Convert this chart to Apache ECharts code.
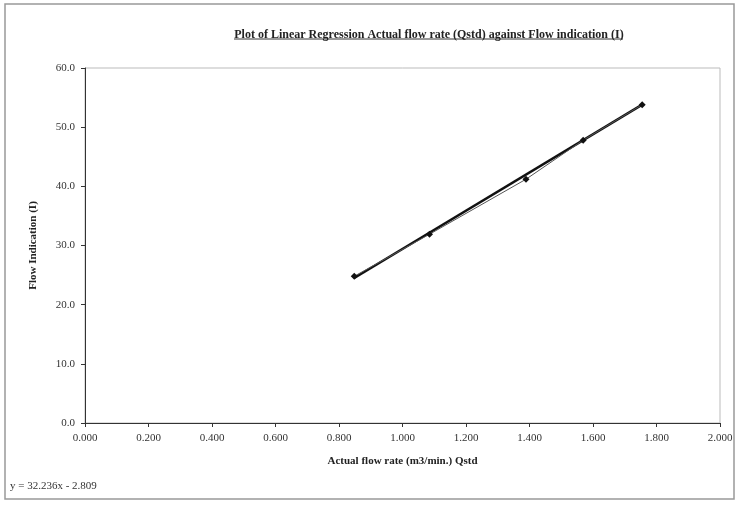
<!DOCTYPE html>
<html>
<head>
<meta charset="utf-8">
<script src="https://cdn.jsdelivr.net/npm/echarts@6/dist/echarts.min.js"></script>
<style>html,body{margin:0;padding:0;background:#fff}#c{width:737px;height:505px}</style>
</head>
<body>
<div id="c"></div>
<script>
// Data
var flowRate = [0.848, 1.085, 1.389, 1.569, 1.755];      // Actual flow rate (m3/min.) Qstd
var flowIndication = [24.8, 31.9, 41.2, 47.8, 53.8];     // Flow Indication (I)
var trendX = [0.848, 1.755];
var trendY = [24.5, 53.8];
var xTicks = ['0.000','0.200','0.400','0.600','0.800','1.000','1.200','1.400','1.600','1.800','2.000'];
var yTicks = ['0.0','10.0','20.0','30.0','40.0','50.0','60.0'];
var titleText = 'Plot of Linear Regression Actual flow rate (Qstd) against Flow indication (I)';
var equationText = 'y = 32.236x - 2.809';

var serif = '"Liberation Serif", "DejaVu Serif", serif';
var chart = echarts.init(document.getElementById('c'));
var pts = flowRate.map(function (x, i) { return [x, flowIndication[i]]; });
var trend = trendX.map(function (x, i) { return [x, trendY[i]]; });

chart.setOption({
  backgroundColor: '#fff',
  animation: false,
  title: {
    text: titleText,
    left: 424, top: 24, textAlign: 'center',
    textStyle: { fontFamily: serif, fontSize: 12, fontWeight: 'bold', color: '#222' }
  },
  grid: { left: 85, right: 17, top: 68, bottom: 82, show: true, borderColor: '#bbb', borderWidth: 1 },
  xAxis: {
    type: 'value', min: 0, max: 2, interval: 0.2,
    name: 'Actual flow rate (m3/min.) Qstd', nameLocation: 'middle', nameGap: 33,
    nameTextStyle: { fontFamily: serif, fontSize: 11, fontWeight: 'bold', color: '#222' },
    axisLine: { show: true, lineStyle: { color: '#333', width: 1 } },
    axisTick: { show: true, length: 4, lineStyle: { color: '#333' } },
    splitLine: { show: false },
    axisLabel: { fontFamily: serif, fontSize: 11, color: '#333', margin: 10,
      formatter: function (v) { return xTicks[Math.round(v / 0.2)]; } }
  },
  yAxis: {
    type: 'value', min: 0, max: 60, interval: 10,
    name: 'Flow Indication (I)', nameLocation: 'middle', nameGap: 46, nameRotate: 90,
    nameTextStyle: { fontFamily: serif, fontSize: 11, fontWeight: 'bold', color: '#222' },
    axisLine: { show: true, lineStyle: { color: '#333', width: 1 } },
    axisTick: { show: true, length: 4, lineStyle: { color: '#333' } },
    splitLine: { show: false },
    axisLabel: { fontFamily: serif, fontSize: 11, color: '#333', margin: 10,
      formatter: function (v) { return yTicks[Math.round(v / 10)]; } }
  },
  series: [
    {
      type: 'line', data: trend, symbol: 'none',
      lineStyle: { color: '#111', width: 2.5 }, z: 2
    },
    {
      type: 'line', data: pts, symbol: 'diamond', symbolSize: 7,
      itemStyle: { color: '#111' },
      lineStyle: { color: '#555', width: 1 }, z: 3
    }
  ],
  graphic: [
    { type: 'rect', shape: { x: 5, y: 4, width: 729, height: 495 },
      style: { fill: 'none', stroke: '#999', lineWidth: 1.5 }, silent: true },
    { type: 'line', shape: { x1: 234, y1: 39, x2: 623, y2: 39 },
      style: { stroke: '#333', lineWidth: 1 }, silent: true },
    { type: 'text', left: 10, top: 481,
      style: { text: equationText, fontFamily: serif, fontSize: 11, fill: '#333' } }
  ]
});
</script>
</body>
</html>
